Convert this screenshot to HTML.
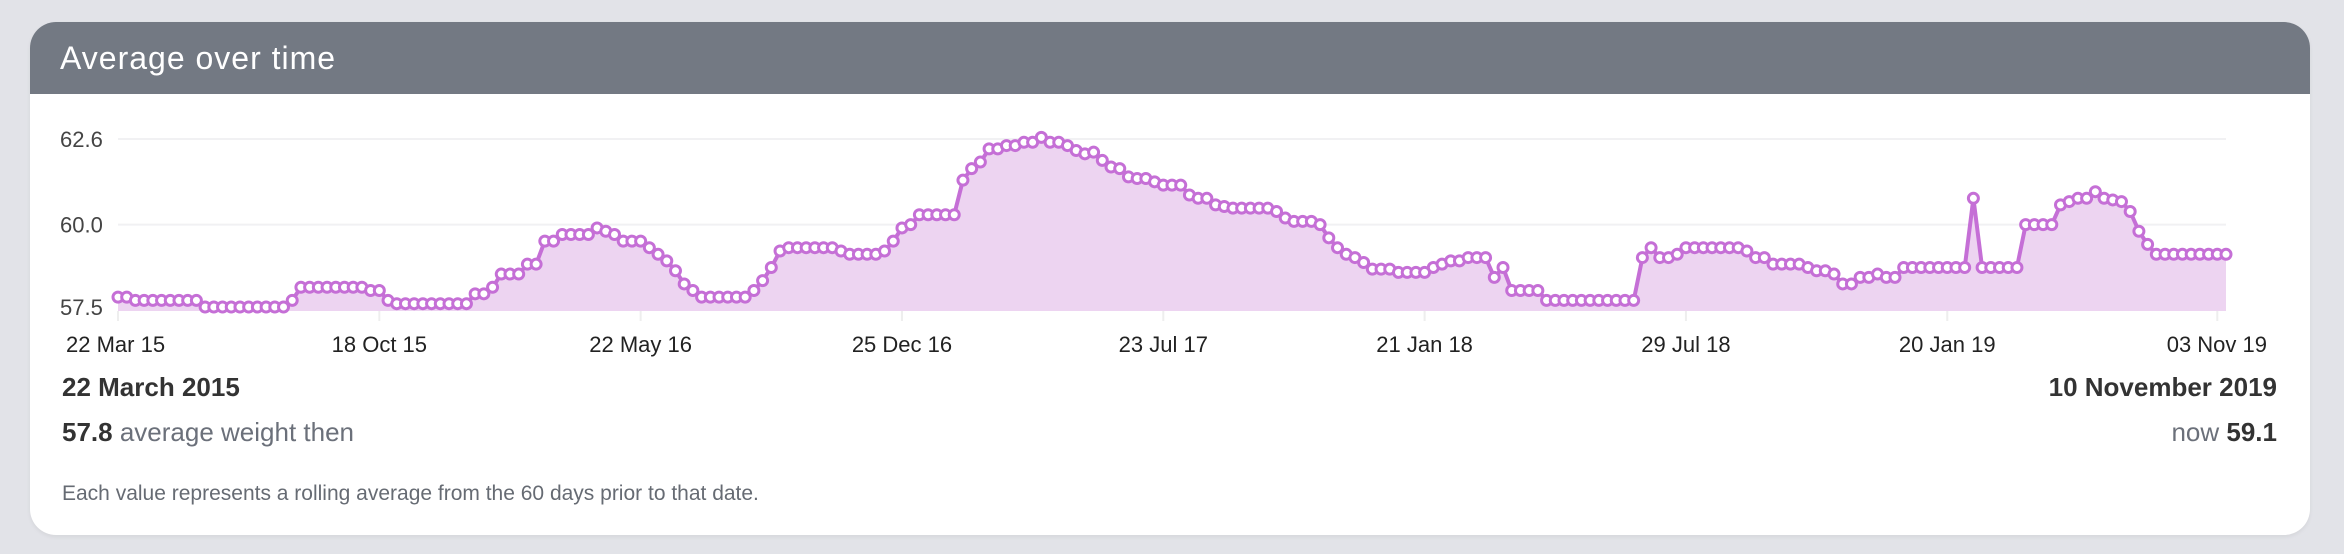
<!DOCTYPE html>
<html><head><meta charset="utf-8"><style>
html,body{margin:0;padding:0;background:#e2e3e8;}
body{width:2344px;height:554px;position:relative;overflow:hidden;font-family:"Liberation Sans",sans-serif;}
.card{position:absolute;left:30px;top:22px;width:2280px;height:513px;background:#fff;border-radius:26px;overflow:hidden;box-shadow:0 2px 4px rgba(0,0,0,0.06);}
.hdr{position:absolute;left:0;top:0;width:100%;height:72px;background:#737983;}
.hdr span{position:absolute;left:30px;top:18px;color:#fff;font-size:32px;letter-spacing:1px;}
.t{position:absolute;font-size:26px;color:#333;}
</style></head><body>
<div class="card">
  <div class="hdr"><span>Average over time</span></div>
</div>
<svg id="chart" width="2344" height="554" style="position:absolute;left:0;top:0"></svg>
<div class="t" style="left:62px;top:372px;font-weight:bold;">22 March 2015</div>
<div class="t" style="left:62px;top:417px;color:#6b707a;"><b style="color:#333">57.8</b> average weight then</div>
<div class="t" style="right:67px;top:372px;font-weight:bold;">10 November 2019</div>
<div class="t" style="right:67px;top:417px;color:#6b707a;">now <b style="color:#333">59.1</b></div>
<div class="t" style="left:62px;top:482px;font-size:21px;color:#666b73;">Each value represents a rolling average from the 60 days prior to that date.</div>
<script>
const values = [
57.8,57.8,
57.7,57.7,57.7,57.7,57.7,57.7,57.7,57.7,
57.5,57.5,57.5,57.5,57.5,57.5,57.5,57.5,57.5,57.5,
57.7,
58.1,58.1,58.1,58.1,58.1,58.1,58.1,58.1,
58.0,58.0,
57.7,
57.6,57.6,57.6,57.6,57.6,57.6,57.6,57.6,57.6,
57.9,57.9,58.1,
58.5,58.5,58.5,58.8,58.8,59.5,59.5,
59.7,59.7,59.7,59.7,59.9,59.8,59.7,
59.5,59.5,59.5,59.3,59.1,58.9,58.6,58.2,58.0,
57.8,57.8,57.8,57.8,57.8,57.8,
58.0,58.3,58.7,59.2,
59.3,59.3,59.3,59.3,59.3,59.3,59.2,
59.1,59.1,59.1,59.1,59.2,
59.5,59.9,60.0,
60.3,60.3,60.3,60.3,60.3,
61.35,61.7,61.9,
62.3,62.3,62.4,62.4,62.5,62.5,62.65,
62.5,62.5,62.4,62.25,62.15,62.2,
61.95,61.75,61.7,61.45,61.4,61.4,61.3,61.2,61.2,61.2,
60.9,60.8,60.8,60.6,60.55,60.5,60.5,60.5,60.5,60.5,
60.4,60.2,60.1,60.1,60.1,60.0,
59.6,59.3,59.1,59.0,58.85,
58.65,58.65,58.65,58.55,58.55,58.55,58.55,
58.7,58.8,58.9,58.9,59.0,59.0,59.0,
58.4,58.7,
58.0,58.0,58.0,58.0,
57.7,57.7,57.7,57.7,57.7,57.7,57.7,57.7,57.7,57.7,57.7,
59.0,59.3,59.0,59.0,59.1,
59.3,59.3,59.3,59.3,59.3,59.3,59.3,
59.2,59.0,59.0,
58.8,58.8,58.8,58.8,
58.7,58.6,58.6,58.5,
58.2,58.2,
58.4,58.4,58.5,58.4,58.4,
58.7,58.7,58.7,58.7,58.7,58.7,58.7,58.7,
60.8,
58.7,58.7,58.7,58.7,58.7,
60.0,60.0,60.0,60.0,
60.6,60.7,60.8,60.8,61.0,60.8,60.75,60.7,60.4,59.8,59.4,
59.1,59.1,59.1,59.1,59.1,59.1,59.1,59.1,59.1
];
const yTicks = [57.5, 60.0, 62.6];
const yTickLabels = ["57.5","60.0","62.6"];
const xTickIdx = [0,30,60,90,120,150,180,210,241];
const xTickLabels = ["22 Mar 15","18 Oct 15","22 May 16","25 Dec 16","23 Jul 17","21 Jan 18","29 Jul 18","20 Jan 19","03 Nov 19"];

const NS="http://www.w3.org/2000/svg";
const svg=document.getElementById('chart');
const X0=118,X1=2226,Y_TOP=139,Y_BOT=307,PLOT_BOT=311;
const n=values.length;
function x(i){return X0+(X1-X0)*i/(n-1);}
function y(v){return Y_BOT-(v-57.5)*(Y_BOT-Y_TOP)/(62.6-57.5);}
function mk(tag,attrs){const e=document.createElementNS(NS,tag);for(const k in attrs)e.setAttribute(k,attrs[k]);svg.appendChild(e);return e;}

yTicks.forEach((t,i)=>{
  if(i>0){const g=mk('line',{x1:X0,x2:X1,y1:y(t),y2:y(t),stroke:'#f1f1f3','stroke-width':2});
  
  }
  const l=mk('text',{x:60,y:y(t)+8,'font-size':22,fill:'#444','font-family':'Liberation Sans, sans-serif'});
  l.textContent=yTickLabels[i];
  
  
});
xTickIdx.forEach((ti,k)=>{
  const tx=x(ti);
  const tl=mk('line',{x1:tx,x2:tx,y1:PLOT_BOT,y2:PLOT_BOT+10,stroke:'#eeeeee','stroke-width':2});
  
  
  let anchor='middle',px=tx;
  if(k===0){anchor='start';px=66;}
  if(k===xTickIdx.length-1){anchor='end';px=2267;}
  const l=mk('text',{x:px,y:352,'font-size':22,fill:'#222','text-anchor':anchor,'font-family':'Liberation Sans, sans-serif'});
  l.textContent=xTickLabels[k];
  
  
});
let d='';values.forEach((v,i)=>{d+=(i?'L':'M')+x(i).toFixed(1)+' '+y(v).toFixed(1);});
const area=mk('path',{d:d+'L'+x(n-1)+' '+PLOT_BOT+'L'+x(0)+' '+PLOT_BOT+'Z',fill:'#edd4f1'});


const line=mk('path',{d:d,fill:'none',stroke:'#c56fd6','stroke-width':4,'stroke-linejoin':'round'});


values.forEach((v,i)=>{
  const c=mk('circle',{cx:x(i),cy:y(v),r:5,fill:'#fff',stroke:'#c56fd6','stroke-width':3});
  
  
});
</script>
</body></html>
